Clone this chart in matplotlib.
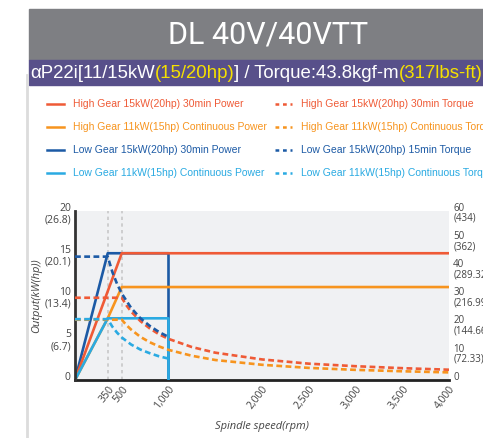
import matplotlib
matplotlib.use("Agg")
import matplotlib.pyplot as plt
from matplotlib.lines import Line2D
from matplotlib.patches import Rectangle
from matplotlib.transforms import ScaledTranslation

W, H = 483, 438

# colours
RED = "#ef5a36"
ORANGE = "#f7941e"
DBLUE = "#1c5aa5"
LBLUE = "#2aaae2"

title = "DL 40V/40VTT"
subtitle_parts = [("αP22i[11/15kW", "white"), ("(15/20hp)", "#f5e000"),
                  ("] / Torque:43.8kgf-m", "white"), ("(317lbs-ft)", "#f5e000")]

legend_labels = [
    "High Gear 15kW(20hp) 30min Power",
    "High Gear 11kW(15hp) Continuous Power",
    "Low Gear 15kW(20hp) 30min Power",
    "Low Gear 11kW(15hp) Continuous Power",
    "High Gear 15kW(20hp) 30min Torque",
    "High Gear 11kW(15hp) Continuous Torque",
    "Low Gear 15kW(20hp) 15min Torque",
    "Low Gear 11kW(15hp) Continuous Torque",
]

# power curves (kW vs rpm)
hg30_rpm = [0, 500, 4000]
hg30_kw = [0, 15, 15]
hgc_rpm = [0, 350, 500, 4000]
hgc_kw = [0, 7.3, 11, 11]
lg30_rpm = [0, 350, 1000, 1000]
lg30_kw = [0, 15, 15, 0]
lgc_rpm = [0, 350, 1000, 1000]
lgc_kw = [0, 7.3, 7.3, 0]

# torque curves (kgf-m vs rpm)
hg30t_rpm = [0, 500, 550, 600, 700, 800, 900, 1000, 1250, 1500, 2000, 2500, 3000, 3500, 4000]
hg30t_val = [29.2, 29.2, 26.5, 24.3, 20.9, 18.3, 16.2, 14.6, 11.7, 9.7, 7.3, 5.8, 4.9, 4.2, 3.65]
hgct_rpm = [0, 500, 550, 600, 700, 800, 900, 1000, 1250, 1500, 2000, 2500, 3000, 3500, 4000]
hgct_val = [21.4, 21.4, 19.5, 17.9, 15.3, 13.4, 11.9, 10.7, 8.6, 7.1, 5.4, 4.3, 3.6, 3.1, 2.7]
lg15t_rpm = [0, 350, 400, 450, 500, 600, 700, 800, 900, 1000]
lg15t_val = [43.8, 43.8, 38.3, 34.1, 30.7, 25.6, 21.9, 19.2, 17.0, 15.3]
lgct_rpm = [0, 350, 400, 450, 500, 600, 700, 800, 900, 1000]
lgct_val = [21.6, 21.6, 18.9, 16.8, 15.1, 12.6, 10.8, 9.5, 8.4, 7.6]

x_ticks = [350, 500, 1000, 2000, 2500, 3000, 3500, 4000]
x_ticklabels = ["350", "500", "1,000", "2,000", "2,500", "3,000", "3,500", "4,000"]
kw_ticks = [0, 5, 10, 15, 20]
kw_ticklabels = ["0", "5\n(6.7)", "10\n(13.4)", "15\n(20.1)", "20\n(26.8)"]
tq_ticks = [0, 10, 20, 30, 40, 50, 60]
tq_ticklabels = ["0", "10\n(72.33)", "20\n(144.66)", "30\n(216.99)", "40\n(289.32)",
                 "50\n(362)", "60\n(434)"]
guide_rpm = [350, 500]


def fx(px):
    return px / W


def fy(py):
    return 1 - py / H


fig = plt.figure(figsize=(W / 100, H / 100), dpi=100)
fig.patch.set_facecolor("white")

# header bands
fig.patches.append(Rectangle((fx(29), fy(60)), 1, 51 / H, transform=fig.transFigure,
                             color="#7e7f83", zorder=0))
fig.patches.append(Rectangle((fx(29), fy(85)), 1, 25 / H, transform=fig.transFigure,
                             color="#58508a", zorder=0))
fig.lines.append(Line2D([fx(27), fx(27)], [fy(75), 0], transform=fig.transFigure,
                        color="#dcdcdc", lw=2))
fig.text(fx(268), fy(35), title, color="white", fontsize=22, family="Roboto",
         ha="center", va="center")

# subtitle with coloured parts
renderer = fig.canvas.get_renderer()
xpos = fx(30)
for txt, col in subtitle_parts:
    t = fig.text(xpos, fy(73), txt, color=col, fontsize=13.4, family="Liberation Sans",
                 ha="left", va="center")
    bb = t.get_window_extent(renderer=renderer)
    xpos += bb.width / W

# legend
styles = [(RED, "-"), (ORANGE, "-"), (DBLUE, "-"), (LBLUE, "-"),
          (RED, "--"), (ORANGE, "--"), (DBLUE, "--"), (LBLUE, "--")]
for i, (lab, (col, ls)) in enumerate(zip(legend_labels, styles)):
    col_i, row = divmod(i, 4)
    y = fy(104 + row * 23)
    x0 = 47 if col_i == 0 else 275
    ln = Line2D([fx(x0), fx(x0 + 17)], [y, y], transform=fig.transFigure, color=col, lw=1.8)
    if ls == "--":
        ln.set_dashes((1.5, 1.5))
    fig.lines.append(ln)
    fig.text(fx(x0 + 26), y, lab, color=col, fontsize=7.5,
             family="Liberation Sans", ha="left", va="center")

# axes
ax = fig.add_axes([fx(75), fy(380), 374 / W, 169 / H])
ax.set_facecolor("#f0f1f3")
ax.set_xlim(0, 4000)
ax.set_ylim(0, 20)

for g in guide_rpm:
    ax.axvline(g, color="#c8c8c8", lw=1.2, ls=(0, (2, 2)), zorder=1)

lw = 1.9
dash = (2.2, 1.3)
ax.plot(lg30_rpm, lg30_kw, color=DBLUE, lw=lw, zorder=3)
ax.plot(hg30_rpm, hg30_kw, color=RED, lw=lw, zorder=4)
ax.plot(hgc_rpm, hgc_kw, color=ORANGE, lw=lw, zorder=4)
ax.plot(lgc_rpm, lgc_kw, color=LBLUE, lw=lw, zorder=5)

ax2 = ax.twinx()
ax2.set_ylim(0, 60)
ax2.plot(hg30t_rpm, hg30t_val, color=RED, lw=lw, dashes=dash)
ax2.plot(hgct_rpm, hgct_val, color=ORANGE, lw=lw, dashes=dash)
ax2.plot(lg15t_rpm, lg15t_val, color=DBLUE, lw=lw, dashes=dash)
ax2.plot(lgct_rpm, lgct_val, color=LBLUE, lw=lw, dashes=dash)

for a in (ax, ax2):
    for s in ("top", "right"):
        a.spines[s].set_visible(False)
ax2.spines["left"].set_visible(False)
ax2.spines["bottom"].set_visible(False)
ax.spines["left"].set_color("#333333")
ax.spines["bottom"].set_color("#222222")
ax.spines["left"].set_linewidth(2)
ax.spines["bottom"].set_linewidth(2)
ax.spines["left"].set_zorder(6)

ax.set_xticks(x_ticks)
ax.set_xticklabels(x_ticklabels, rotation=52, ha="right", va="top",
                   rotation_mode="anchor", fontsize=7.5, color="#444444",
                   family="Open Sans")
ax.set_yticks(kw_ticks)
ax.set_yticklabels(kw_ticklabels, fontsize=7.5, color="#444444", family="Open Sans",
                   va="top", ha="right", linespacing=1.1)
ax2.set_yticks(tq_ticks)
ax2.set_yticklabels(tq_ticklabels, fontsize=7, color="#444444", family="Open Sans",
                    va="top", ha="left", linespacing=0.9)
ax.tick_params(length=0, pad=3)
ax2.tick_params(length=0, pad=3)
off = ScaledTranslation(0, 6 / 72, fig.dpi_scale_trans)
for lab in ax.get_yticklabels() + ax2.get_yticklabels():
    lab.set_transform(lab.get_transform() + off)

ax.set_xlabel("Spindle speed(rpm)", fontsize=8, style="italic", color="#444444",
              family="Open Sans", labelpad=7)
ax.set_ylabel("Output(kW(hp))", fontsize=8, style="italic", color="#444444",
              family="Open Sans")
ax.yaxis.set_label_coords(-0.088, 0.5)

fig.savefig("out.png", dpi=100)
